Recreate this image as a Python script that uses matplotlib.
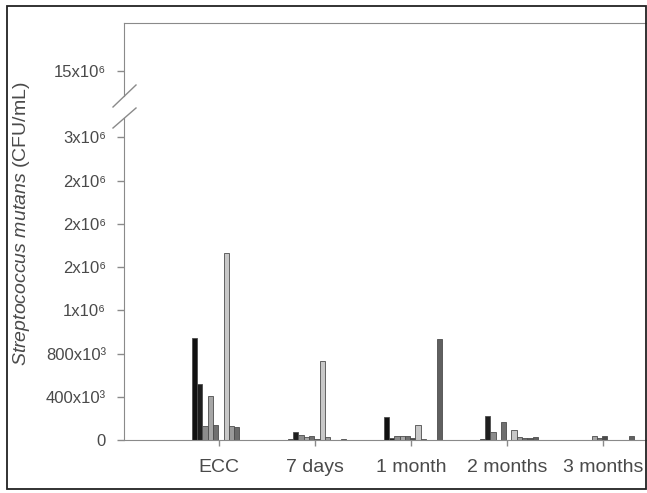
import matplotlib
matplotlib.use("Agg")
import matplotlib.pyplot as plt
import numpy as np
from matplotlib.patches import Rectangle
from matplotlib.lines import Line2D

plt.rcParams['font.family'] = ['Liberation Sans', 'DejaVu Sans']
plt.rcParams['mathtext.fontset'] = 'custom'
plt.rcParams['mathtext.it'] = 'Liberation Sans:italic'
plt.rcParams['mathtext.rm'] = 'Liberation Sans'

# ---------------- data ----------------
categories = ["ECC", "7 days", "1 month", "2 months", "3 months"]
# S. mutans counts (CFU/mL) for each of 11 children at each time point
ecc     = [940e3, 518e3, 132e3, 404e3, 139e3, 0, 1735e3, 127e3, 120e3, 0, 0]
days7   = [5e3, 71e3, 46e3, 28e3, 35e3, 5e3, 731e3, 25e3, 0, 0, 10e3]
month1  = [210e3, 20e3, 40e3, 40e3, 35e3, 20e3, 142e3, 10e3, 0, 0, 935e3]
month2  = [10e3, 225e3, 70e3, 0, 164e3, 0, 95e3, 25e3, 20e3, 20e3, 30e3]
month3  = [0, 0, 0, 35e3, 20e3, 40e3, 0, 0, 0, 0, 35e3]
series_colors = ['#111111', '#1e1e1e', '#8c8c8c', '#a6a6a6', '#707070', '#4a4a4a',
                 '#c8c8c8', '#9a9a9a', '#6a6a6a', '#555555', '#606060']

lower_ticks = [0, 400e3, 800e3, 1200e3, 1600e3, 2000e3, 2400e3, 2800e3]
lower_tick_labels = ["0", "400x10³", "800x10³", "1x10⁶", "2x10⁶", "2x10⁶", "2x10⁶", "3x10⁶"]
upper_ticks = [15e6]
upper_tick_labels = ["15x10⁶"]

# ---------------- figure ----------------
W, H = 647, 493
fig = plt.figure(figsize=(W / 100, H / 100), dpi=100)

def fx(px):
    return px / W

def fy(py):
    return 1 - py / H

left_px, right_px = 124, 647
low_top, low_bot = 118, 440
up_top, up_bot = 23, 96

ax = fig.add_axes([fx(left_px), fy(low_bot), fx(right_px - left_px), (low_bot - low_top) / H])
axu = fig.add_axes([fx(left_px), fy(up_bot), fx(right_px - left_px), (up_bot - up_top) / H])

groups = [ecc, days7, month1, month2, month3]
n_series = len(ecc)
x = np.arange(len(categories))
w = 0.055
spine_c = '#8a8a8a'
text_c = '#4a4a4a'

for j in range(n_series):
    heights = [g[j] for g in groups]
    for a in (ax, axu):
        a.bar(x + 0.02 + (j - (n_series - 1) / 2) * w, heights, width=w,
              color=series_colors[j], edgecolor='#4d4d4d', linewidth=0.6)

xlim = (-0.99, 4.46)
ax.set_xlim(*xlim)
axu.set_xlim(*xlim)
ax.set_ylim(0, 2.98e6)
axu.set_ylim(14.0e6, 16.92e6)

ax.set_yticks(lower_ticks)
ax.set_yticklabels(lower_tick_labels)
axu.set_yticks(upper_ticks)
axu.set_yticklabels(upper_tick_labels)
ax.set_xticks(x)
ax.set_xticklabels(categories)
axu.set_xticks([])

for a in (ax, axu):
    a.spines['right'].set_visible(False)
    a.spines['left'].set_color(spine_c)
    a.tick_params(axis='y', direction='out', length=5, width=1, color=spine_c,
                  labelsize=12, labelcolor=text_c, pad=8)
    a.set_facecolor('none')

ax.spines['top'].set_visible(False)
ax.spines['bottom'].set_color(spine_c)
ax.tick_params(axis='x', direction='out', length=4, width=1, color=spine_c,
               labelsize=14, labelcolor=text_c, pad=10)
axu.spines['bottom'].set_visible(False)
axu.spines['top'].set_color(spine_c)

# y-axis label
fig.text(fx(22), fy(224), r"$\it{Streptococcus\ mutans}$ (CFU/mL)", rotation=90,
         ha='center', va='center', fontsize=14, color=text_c)

# break marks
for (x0, y0, x1, y1) in [(113, 107, 136, 85), (113, 128, 136, 108)]:
    fig.add_artist(Line2D([fx(x0), fx(x1)], [fy(y0), fy(y1)], color=spine_c, lw=1.0))

# outer frame
fig.add_artist(Rectangle((fx(7), fy(489)), fx(646 - 7), (489 - 5.5) / H, fill=False,
                         edgecolor='#222222', linewidth=1.3))

fig.savefig("out.png", dpi=100)
